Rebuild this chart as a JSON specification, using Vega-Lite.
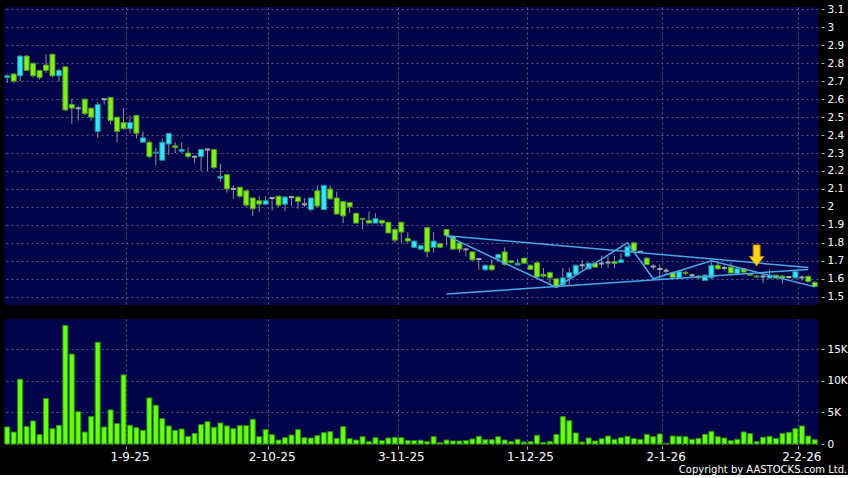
{
  "$schema": "https://vega.github.io/schema/vega-lite/v6.json",
  "background": "#000000",
  "padding": {"left": 4, "top": 4, "right": 0, "bottom": 0},
  "config": {
    "view": {"fill": "#03034a", "stroke": null},
    "axis": {"labelFont": "DejaVu Sans", "labelColor": "#ffffff", "gridColor": "#5b5b8f", "gridDash": [2, 3], "gridWidth": 1, "domain": false, "tickColor": "#b0b0b0", "labelOverlap": false},
    "concat": {"spacing": 14}
  },
  "title": {"text": "Copyright by AASTOCKS.com Ltd.", "orient": "bottom", "anchor": "end", "frame": "bounds", "color": "#ffffff", "font": "DejaVu Sans", "fontSize": 10, "fontWeight": "normal", "offset": 3},
  "datasets": {
    "ohlc": [
      {"d":"5-8-25","o":2.72,"h":2.74,"l":2.69,"c":2.73,"v":2700},
      {"d":"6-8-25","o":2.74,"h":2.745,"l":2.69,"c":2.70,"v":1900},
      {"d":"7-8-25","o":2.73,"h":2.845,"l":2.70,"c":2.84,"v":10260},
      {"d":"8-8-25","o":2.84,"h":2.845,"l":2.76,"c":2.76,"v":2750},
      {"d":"11-8-25","o":2.80,"h":2.80,"l":2.72,"c":2.73,"v":3650},
      {"d":"12-8-25","o":2.76,"h":2.76,"l":2.71,"c":2.72,"v":1480},
      {"d":"13-8-25","o":2.79,"h":2.85,"l":2.745,"c":2.76,"v":7200},
      {"d":"14-8-25","o":2.85,"h":2.85,"l":2.72,"c":2.73,"v":2430},
      {"d":"15-8-25","o":2.73,"h":2.77,"l":2.70,"c":2.76,"v":2960},
      {"d":"18-8-25","o":2.78,"h":2.78,"l":2.535,"c":2.54,"v":18780},
      {"d":"19-8-25","o":2.57,"h":2.60,"l":2.46,"c":2.55,"v":14230},
      {"d":"20-8-25","o":2.55,"h":2.56,"l":2.48,"c":2.55,"v":5130},
      {"d":"21-8-25","o":2.60,"h":2.60,"l":2.51,"c":2.52,"v":1900},
      {"d":"22-8-25","o":2.55,"h":2.55,"l":2.48,"c":2.50,"v":4340},
      {"d":"25-8-25","o":2.42,"h":2.585,"l":2.385,"c":2.57,"v":16130},
      {"d":"26-8-25","o":2.60,"h":2.60,"l":2.57,"c":2.60,"v":2700},
      {"d":"27-8-25","o":2.61,"h":2.61,"l":2.46,"c":2.48,"v":5400},
      {"d":"28-8-25","o":2.50,"h":2.50,"l":2.36,"c":2.42,"v":3230},
      {"d":"29-8-25","o":2.47,"h":2.55,"l":2.43,"c":2.435,"v":10950},
      {"d":"1-9-25","o":2.435,"h":2.51,"l":2.41,"c":2.47,"v":2960},
      {"d":"2-9-25","o":2.51,"h":2.51,"l":2.38,"c":2.41,"v":2590},
      {"d":"3-9-25","o":2.36,"h":2.42,"l":2.36,"c":2.385,"v":2170},
      {"d":"4-9-25","o":2.36,"h":2.37,"l":2.27,"c":2.28,"v":7300},
      {"d":"5-9-25","o":2.30,"h":2.33,"l":2.23,"c":2.305,"v":6140},
      {"d":"8-9-25","o":2.26,"h":2.38,"l":2.26,"c":2.36,"v":4020},
      {"d":"9-9-25","o":2.35,"h":2.41,"l":2.29,"c":2.41,"v":2860},
      {"d":"10-9-25","o":2.34,"h":2.36,"l":2.30,"c":2.33,"v":2170},
      {"d":"11-9-25","o":2.31,"h":2.36,"l":2.30,"c":2.32,"v":2380},
      {"d":"12-9-25","o":2.30,"h":2.33,"l":2.27,"c":2.28,"v":1220},
      {"d":"15-9-25","o":2.28,"h":2.28,"l":2.245,"c":2.28,"v":1690},
      {"d":"16-9-25","o":2.28,"h":2.32,"l":2.20,"c":2.32,"v":3070},
      {"d":"17-9-25","o":2.32,"h":2.325,"l":2.20,"c":2.32,"v":3540},
      {"d":"18-9-25","o":2.32,"h":2.32,"l":2.21,"c":2.22,"v":2650},
      {"d":"19-9-25","o":2.16,"h":2.24,"l":2.14,"c":2.17,"v":3330},
      {"d":"22-9-25","o":2.18,"h":2.18,"l":2.08,"c":2.10,"v":2860},
      {"d":"23-9-25","o":2.10,"h":2.12,"l":2.045,"c":2.10,"v":2430},
      {"d":"24-9-25","o":2.11,"h":2.11,"l":2.05,"c":2.06,"v":2910},
      {"d":"25-9-25","o":2.09,"h":2.09,"l":2.00,"c":2.01,"v":2910},
      {"d":"26-9-25","o":2.05,"h":2.05,"l":1.95,"c":1.99,"v":3910},
      {"d":"29-9-25","o":2.035,"h":2.06,"l":1.97,"c":2.015,"v":1160},
      {"d":"30-9-25","o":2.015,"h":2.06,"l":2.01,"c":2.035,"v":2270},
      {"d":"2-10-25","o":2.05,"h":2.05,"l":1.98,"c":2.05,"v":1480},
      {"d":"3-10-25","o":2.06,"h":2.06,"l":2.00,"c":2.01,"v":630},
      {"d":"6-10-25","o":2.015,"h":2.06,"l":1.975,"c":2.055,"v":1000},
      {"d":"8-10-25","o":2.055,"h":2.06,"l":2.005,"c":2.055,"v":1430},
      {"d":"9-10-25","o":2.055,"h":2.06,"l":1.99,"c":2.03,"v":2270},
      {"d":"10-10-25","o":2.015,"h":2.05,"l":2.00,"c":2.015,"v":1000},
      {"d":"13-10-25","o":1.985,"h":2.05,"l":1.975,"c":2.05,"v":950},
      {"d":"14-10-25","o":2.09,"h":2.12,"l":2.00,"c":2.005,"v":1320},
      {"d":"15-10-25","o":1.985,"h":2.12,"l":1.985,"c":2.12,"v":1800},
      {"d":"16-10-25","o":2.10,"h":2.12,"l":2.04,"c":2.045,"v":1960},
      {"d":"17-10-25","o":2.05,"h":2.085,"l":1.96,"c":1.96,"v":900},
      {"d":"20-10-25","o":2.03,"h":2.03,"l":1.91,"c":1.95,"v":2750},
      {"d":"21-10-25","o":2.025,"h":2.025,"l":1.965,"c":2.00,"v":850},
      {"d":"22-10-25","o":1.965,"h":1.965,"l":1.91,"c":1.91,"v":630},
      {"d":"23-10-25","o":1.935,"h":1.94,"l":1.875,"c":1.93,"v":1160},
      {"d":"24-10-25","o":1.925,"h":1.975,"l":1.91,"c":1.91,"v":370},
      {"d":"27-10-25","o":1.91,"h":1.965,"l":1.91,"c":1.935,"v":1000},
      {"d":"28-10-25","o":1.925,"h":1.93,"l":1.89,"c":1.91,"v":530},
      {"d":"30-10-25","o":1.915,"h":1.915,"l":1.855,"c":1.855,"v":950},
      {"d":"31-10-25","o":1.875,"h":1.88,"l":1.80,"c":1.815,"v":1060},
      {"d":"3-11-25","o":1.915,"h":1.915,"l":1.80,"c":1.86,"v":1000},
      {"d":"4-11-25","o":1.825,"h":1.86,"l":1.80,"c":1.81,"v":530},
      {"d":"5-11-25","o":1.775,"h":1.81,"l":1.77,"c":1.81,"v":530},
      {"d":"6-11-25","o":1.765,"h":1.79,"l":1.765,"c":1.785,"v":600},
      {"d":"7-11-25","o":1.885,"h":1.885,"l":1.72,"c":1.75,"v":370},
      {"d":"10-11-25","o":1.775,"h":1.86,"l":1.745,"c":1.81,"v":1160},
      {"d":"11-11-25","o":1.795,"h":1.80,"l":1.77,"c":1.775,"v":210},
      {"d":"12-11-25","o":1.875,"h":1.875,"l":1.785,"c":1.84,"v":630},
      {"d":"13-11-25","o":1.835,"h":1.84,"l":1.76,"c":1.765,"v":480},
      {"d":"14-11-25","o":1.80,"h":1.80,"l":1.745,"c":1.765,"v":480},
      {"d":"17-11-25","o":1.765,"h":1.765,"l":1.725,"c":1.765,"v":530},
      {"d":"18-11-25","o":1.75,"h":1.75,"l":1.70,"c":1.705,"v":790},
      {"d":"19-11-25","o":1.71,"h":1.71,"l":1.65,"c":1.71,"v":1220},
      {"d":"20-11-25","o":1.65,"h":1.68,"l":1.645,"c":1.675,"v":690},
      {"d":"21-11-25","o":1.675,"h":1.71,"l":1.645,"c":1.65,"v":690},
      {"d":"24-11-25","o":1.715,"h":1.74,"l":1.70,"c":1.735,"v":1160},
      {"d":"25-11-25","o":1.75,"h":1.775,"l":1.675,"c":1.68,"v":630},
      {"d":"26-11-25","o":1.70,"h":1.70,"l":1.685,"c":1.69,"v":370},
      {"d":"27-11-25","o":1.677,"h":1.71,"l":1.675,"c":1.687,"v":740},
      {"d":"28-11-25","o":1.715,"h":1.715,"l":1.685,"c":1.687,"v":320},
      {"d":"1-12-25","o":1.675,"h":1.68,"l":1.65,"c":1.652,"v":370},
      {"d":"2-12-25","o":1.69,"h":1.69,"l":1.605,"c":1.61,"v":1380},
      {"d":"3-12-25","o":1.625,"h":1.66,"l":1.605,"c":1.615,"v":260},
      {"d":"4-12-25","o":1.635,"h":1.64,"l":1.565,"c":1.605,"v":420},
      {"d":"5-12-25","o":1.60,"h":1.60,"l":1.55,"c":1.555,"v":1530},
      {"d":"8-12-25","o":1.565,"h":1.66,"l":1.555,"c":1.605,"v":4340},
      {"d":"9-12-25","o":1.605,"h":1.66,"l":1.565,"c":1.635,"v":3700},
      {"d":"10-12-25","o":1.625,"h":1.68,"l":1.62,"c":1.675,"v":1750},
      {"d":"11-12-25","o":1.675,"h":1.705,"l":1.65,"c":1.675,"v":320},
      {"d":"12-12-25","o":1.655,"h":1.69,"l":1.655,"c":1.687,"v":950},
      {"d":"15-12-25","o":1.687,"h":1.69,"l":1.66,"c":1.665,"v":480},
      {"d":"16-12-25","o":1.685,"h":1.73,"l":1.66,"c":1.685,"v":850},
      {"d":"17-12-25","o":1.69,"h":1.725,"l":1.66,"c":1.69,"v":1270},
      {"d":"18-12-25","o":1.695,"h":1.73,"l":1.66,"c":1.685,"v":740},
      {"d":"19-12-25","o":1.69,"h":1.74,"l":1.69,"c":1.705,"v":1000},
      {"d":"22-12-25","o":1.726,"h":1.78,"l":1.72,"c":1.778,"v":1220},
      {"d":"23-12-25","o":1.80,"h":1.805,"l":1.75,"c":1.755,"v":850},
      {"d":"24-12-25","o":1.75,"h":1.755,"l":1.745,"c":1.75,"v":740},
      {"d":"29-12-25","o":1.715,"h":1.72,"l":1.675,"c":1.68,"v":1530},
      {"d":"30-12-25","o":1.668,"h":1.68,"l":1.65,"c":1.668,"v":1160},
      {"d":"31-12-25","o":1.655,"h":1.68,"l":1.60,"c":1.655,"v":1590},
      {"d":"2-1-26","o":1.645,"h":1.66,"l":1.62,"c":1.645,"v":110},
      {"d":"5-1-26","o":1.635,"h":1.64,"l":1.60,"c":1.607,"v":1270},
      {"d":"6-1-26","o":1.605,"h":1.65,"l":1.60,"c":1.64,"v":1220},
      {"d":"7-1-26","o":1.635,"h":1.645,"l":1.62,"c":1.63,"v":1160},
      {"d":"8-1-26","o":1.62,"h":1.63,"l":1.61,"c":1.62,"v":740},
      {"d":"9-1-26","o":1.615,"h":1.62,"l":1.60,"c":1.605,"v":900},
      {"d":"12-1-26","o":1.59,"h":1.625,"l":1.59,"c":1.62,"v":1530},
      {"d":"13-1-26","o":1.605,"h":1.70,"l":1.60,"c":1.675,"v":2010},
      {"d":"14-1-26","o":1.675,"h":1.695,"l":1.65,"c":1.655,"v":1160},
      {"d":"15-1-26","o":1.66,"h":1.675,"l":1.645,"c":1.66,"v":950},
      {"d":"16-1-26","o":1.665,"h":1.69,"l":1.63,"c":1.632,"v":530},
      {"d":"19-1-26","o":1.628,"h":1.66,"l":1.625,"c":1.656,"v":740},
      {"d":"20-1-26","o":1.656,"h":1.66,"l":1.63,"c":1.637,"v":1900},
      {"d":"21-1-26","o":1.626,"h":1.63,"l":1.615,"c":1.62,"v":1640},
      {"d":"22-1-26","o":1.615,"h":1.62,"l":1.605,"c":1.61,"v":370},
      {"d":"23-1-26","o":1.613,"h":1.626,"l":1.576,"c":1.613,"v":1060},
      {"d":"26-1-26","o":1.604,"h":1.65,"l":1.60,"c":1.62,"v":1220},
      {"d":"27-1-26","o":1.62,"h":1.62,"l":1.60,"c":1.604,"v":900},
      {"d":"28-1-26","o":1.615,"h":1.62,"l":1.575,"c":1.604,"v":1690},
      {"d":"29-1-26","o":1.61,"h":1.615,"l":1.60,"c":1.61,"v":1850},
      {"d":"30-1-26","o":1.605,"h":1.645,"l":1.60,"c":1.64,"v":2430},
      {"d":"2-2-26","o":1.607,"h":1.62,"l":1.59,"c":1.607,"v":2860},
      {"d":"3-2-26","o":1.613,"h":1.62,"l":1.58,"c":1.585,"v":1270},
      {"d":"4-2-26","o":1.58,"h":1.585,"l":1.555,"c":1.557,"v":690}
    ],
    "lines": [
      {"d":"12-11-25","p":1.84,"g":"upper"},
      {"d":"3-2-26","p":1.663,"g":"upper"},
      {"d":"12-11-25","p":1.515,"g":"lower"},
      {"d":"3-2-26","p":1.652,"g":"lower"},
      {"d":"12-11-25","p":1.84,"g":"zig"},
      {"d":"5-12-25","p":1.552,"g":"zig"},
      {"d":"22-12-25","p":1.80,"g":"zig"},
      {"d":"30-12-25","p":1.60,"g":"zig"},
      {"d":"13-1-26","p":1.70,"g":"zig"},
      {"d":"4-2-26","p":1.555,"g":"zig"}
    ],
    "arrow": [
      {"d":"22-1-26","p":1.73}
    ]
  },
  "vconcat": [
    {
      "width": 814,
      "height": 298,
      "layer": [
        {
          "data": {"name": "ohlc"},
          "mark": {"type": "rule", "color": "#8f8f8f", "strokeWidth": 1},
          "encoding": {
            "x": {
              "field": "d", "type": "ordinal", "sort": null, "title": null,
              "scale": {"paddingInner": 0, "paddingOuter": 0, "domain": ["5-8-25","6-8-25","7-8-25","8-8-25","11-8-25","12-8-25","13-8-25","14-8-25","15-8-25","18-8-25","19-8-25","20-8-25","21-8-25","22-8-25","25-8-25","26-8-25","27-8-25","28-8-25","29-8-25","1-9-25","2-9-25","3-9-25","4-9-25","5-9-25","8-9-25","9-9-25","10-9-25","11-9-25","12-9-25","15-9-25","16-9-25","17-9-25","18-9-25","19-9-25","22-9-25","23-9-25","24-9-25","25-9-25","26-9-25","29-9-25","30-9-25","2-10-25","3-10-25","6-10-25","8-10-25","9-10-25","10-10-25","13-10-25","14-10-25","15-10-25","16-10-25","17-10-25","20-10-25","21-10-25","22-10-25","23-10-25","24-10-25","27-10-25","28-10-25","30-10-25","31-10-25","3-11-25","4-11-25","5-11-25","6-11-25","7-11-25","10-11-25","11-11-25","12-11-25","13-11-25","14-11-25","17-11-25","18-11-25","19-11-25","20-11-25","21-11-25","24-11-25","25-11-25","26-11-25","27-11-25","28-11-25","1-12-25","2-12-25","3-12-25","4-12-25","5-12-25","8-12-25","9-12-25","10-12-25","11-12-25","12-12-25","15-12-25","16-12-25","17-12-25","18-12-25","19-12-25","22-12-25","23-12-25","24-12-25","29-12-25","30-12-25","31-12-25","2-1-26","5-1-26","6-1-26","7-1-26","8-1-26","9-1-26","12-1-26","13-1-26","14-1-26","15-1-26","16-1-26","19-1-26","20-1-26","21-1-26","22-1-26","23-1-26","26-1-26","27-1-26","28-1-26","29-1-26","30-1-26","2-2-26","3-2-26","4-2-26"]},
              "axis": {"values": ["1-9-25","2-10-25","3-11-25","1-12-25","2-1-26","2-2-26"], "labels": false, "ticks": false, "grid": true, "bandPosition": 0, "title": null}
            },
            "y": {
              "field": "l", "type": "quantitative", "title": null,
              "scale": {"domain": [1.454, 3.113], "zero": false, "nice": false},
              "axis": {"orient": "right", "values": [1.5,1.6,1.7,1.8,1.9,2.0,2.1,2.2,2.3,2.4,2.5,2.6,2.7,2.8,2.9,3.0,3.1], "tickCount": 40, "format": ".1~f", "grid": true, "offset": 3, "tickSize": 3, "labelPadding": 3, "labelFontSize": 10.5, "labelOverlap": false, "title": null}
            },
            "y2": {"field": "h"}
          }
        },
        {
          "data": {"name": "ohlc"},
          "mark": {"type": "bar", "size": 5},
          "encoding": {
            "x": {"field": "d", "type": "ordinal", "sort": null, "title": null},
            "y": {"field": "o", "type": "quantitative", "title": null},
            "y2": {"field": "c"},
            "fill": {"condition": [{"test": "datum.c > datum.o", "value": "#35e4f5"}, {"test": "datum.c < datum.o", "value": "#82ee22"}], "value": "#a3acac"},
            "stroke": {"condition": [{"test": "datum.c > datum.o", "value": "#1f8e9c"}, {"test": "datum.c < datum.o", "value": "#4f9a1c"}], "value": "#a3acac"},
            "strokeWidth": {"condition": {"test": "datum.c == datum.o", "value": 2}, "value": 1}
          }
        },
        {
          "data": {"name": "lines"},
          "mark": {"type": "line", "color": "#4aa8e6", "strokeWidth": 1.5},
          "encoding": {
            "x": {"field": "d", "type": "ordinal", "sort": null, "title": null},
            "y": {"field": "p", "type": "quantitative", "title": null},
            "detail": {"field": "g"}
          }
        },
        {
          "data": {"name": "arrow"},
          "mark": {"type": "point", "shape": "M -0.33 -1 L 0.33 -1 L 0.33 0.1 L 0.7 0.1 L 0 1 L -0.7 0.1 L -0.33 0.1 Z", "size": 441, "filled": true, "fill": "#ffd21a", "stroke": "#b8860b", "strokeWidth": 1, "opacity": 1},
          "encoding": {
            "x": {"field": "d", "type": "ordinal", "sort": null, "title": null},
            "y": {"field": "p", "type": "quantitative", "title": null}
          }
        }
      ]
    },
    {
      "width": 814,
      "height": 125,
      "data": {"name": "ohlc"},
      "mark": {"type": "bar", "size": 5, "fill": "#66ff1a", "stroke": "#2f8f00", "strokeWidth": 1},
      "encoding": {
        "x": {
          "field": "d", "type": "ordinal", "sort": null, "title": null,
          "scale": {"paddingInner": 0, "paddingOuter": 0},
          "axis": {"values": ["1-9-25","2-10-25","3-11-25","1-12-25","2-1-26","2-2-26"], "labelAngle": 0, "grid": true, "bandPosition": 0, "offset": 2, "tickSize": 3, "labelPadding": 2, "labelFontSize": 12, "title": null}
        },
        "y": {
          "field": "v", "type": "quantitative", "title": null,
          "scale": {"domain": [0, 19800], "nice": false},
          "axis": {"orient": "right", "values": [0, 5000, 10000, 15000], "tickCount": 10, "labelExpr": "datum.value == 0 ? '0' : (datum.value / 1000) + 'K'", "grid": true, "offset": 3, "tickSize": 3, "labelPadding": 3, "labelFontSize": 10.5, "title": null}
        }
      }
    }
  ]
}
